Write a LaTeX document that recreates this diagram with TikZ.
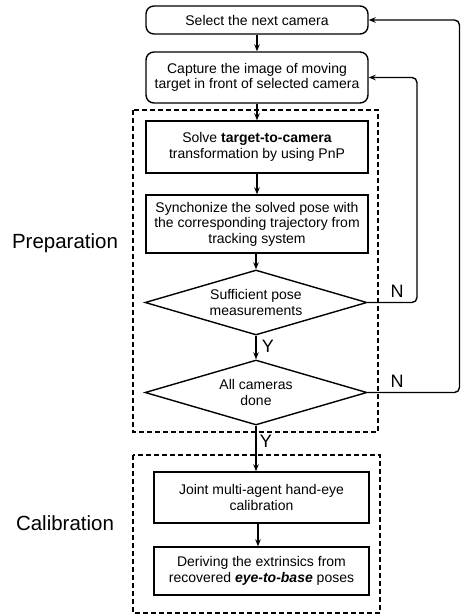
\documentclass[tikz,border=0pt]{standalone}
\usepackage{fontspec}
\setmainfont{Liberation Sans}
\usetikzlibrary{shapes.geometric,arrows.meta}
\tikzset{
	txt/.style={align=center, inner sep=0pt, font=\fontsize{14}{15.5}\selectfont},
	stepbox/.style={txt, draw, line width=1.4pt, minimum width=222pt},
	roundbox/.style={stepbox, rounded corners=8pt},
	decision/.style={txt, draw, line width=1.4pt, diamond, aspect=3.4, minimum width=222pt, minimum height=65pt},
	phase/.style={draw, line width=1.4pt, dash pattern=on 5pt off 3pt},
	flow/.style={line width=1.4pt, -{Stealth[length=7pt,width=5.5pt]}},
	yn/.style={inner sep=0pt, font=\fontsize{18}{18}\selectfont},
	phaselabel/.style={inner sep=0pt, font=\fontsize{20.5}{22}\selectfont}
}
\begin{document}
\begin{tikzpicture}[x=1pt,y=-1pt]
		\useasboundingbox (0,0) rectangle (461,614);
		\draw[phase] (133,110) rectangle (378,432);
		\draw[phase] (133,455) rectangle (380,613);
		\node[phaselabel] (prep) at (65,243) {Preparation};
		\node[phaselabel] (calib) at (65,523) {Calibration};
		\node[roundbox, minimum height=28pt] (sel) at (257,20) {Select the next camera};
		\node[roundbox, minimum height=51pt] (cap) at (257,77.5) {Capture the image of moving\\target in front of selected camera};
		\node[stepbox, minimum height=52pt] (solve) at (257,147) {Solve \textbf{target-to-camera}\\transformation by using PnP};
		\node[stepbox, minimum height=58pt] (sync) at (257,224) {Synchonize the solved pose with\\the corresponding trajectory from\\tracking system};
		\node[decision] (suff) at (256,302.5) {Sufficient pose\\measurements};
		\node[decision] (done) at (256,392.5) {All cameras\\done};
		\node[stepbox, minimum width=215pt, minimum height=51pt] (joint) at (261.5,497.5) {Joint multi-agent hand-eye\\calibration};
		\node[stepbox, minimum width=215pt, minimum height=48pt] (derive) at (261.5,571) {Deriving the extrinsics from\\recovered \textbf{\textit{eye-to-base}} poses};
		\draw[flow] (sel) -- (cap);
		\draw[flow] (cap) -- (solve);
		\draw[flow] (solve) -- (sync);
		\draw[flow] (sync.south -| suff.north) -- (suff.north);
		\draw[flow] (suff) -- (done);
		\draw[flow] (done.south) -- (done.south |- joint.north);
		\draw[flow] (joint.south -| 258,0) -- (derive.north -| 258,0);
		\coordinate (back1) at (417,302.5);
		\coordinate (back2) at (459.5,392.5);
		\draw[flow, rounded corners=5pt] (suff.east) -- (back1) -- (back1 |- cap.east) -- (cap.east);
		\draw[flow, rounded corners=5pt] (done.east) -- (back2) -- (back2 |- sel.east) -- (sel.east);
		\node[yn] (y1) at (268,346) {Y};
		\node[yn] (y2) at (266,441) {Y};
		\node[yn] (n1) at (397,291) {N};
		\node[yn] (n2) at (397,381) {N};
	\end{tikzpicture}
\end{document}
